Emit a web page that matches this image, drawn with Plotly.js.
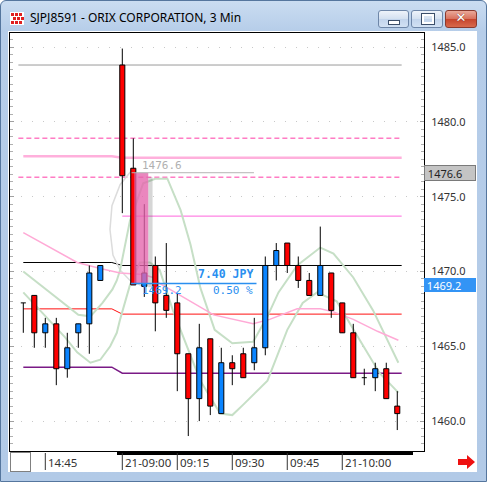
<!DOCTYPE html>
<html>
<head>
<meta charset="utf-8">
<script src="https://cdn.plot.ly/plotly-3.0.1.min.js"></script>
<style>
  html, body { margin: 0; padding: 0; width: 487px; height: 482px; overflow: hidden; background: #fff; }
  body { font-family: "Noto Sans", "Liberation Sans", sans-serif; }
  #frame { position: absolute; left: 0; top: 0; width: 485px; height: 480px; border: 1px solid #55769e;
           border-radius: 6px 6px 0 0; background: linear-gradient(#cadcf1, #b6cde9 30px, #b2cae7); }
  #client { position: absolute; left: 8px; top: 31px; width: 469px; height: 441px; background: #fff; }
  #icon { position: absolute; left: 10px; top: 12px; width: 14px; height: 13px; background: #fff; }
  #icon i { position: absolute; width: 3px; height: 3px; background: #e02020; }
  #title { position: absolute; left: 30px; top: 11px; font-size: 12px; line-height: 14px; color: #000; white-space: nowrap; }
  .btn { position: absolute; top: 10px; height: 16px; border: 1px solid #6e86a8; border-radius: 3px;
         background: linear-gradient(#eef3fa, #d3e0f0 50%, #c2d4ec 51%, #d2e1f3); }
  #bmin { left: 378px; width: 29px; }
  #bmax { left: 411px; width: 30px; }
  #bclose { left: 445px; width: 30px; border-color: #8a3a2e;
            background: linear-gradient(#eaa99a, #d8705c 50%, #c5442c 51%, #d8694c); }
  #bmin i { position: absolute; left: 9px; top: 9px; width: 10px; height: 3px; background: #fff; border: 1px solid #3c4f6a; }
  #bmax i { position: absolute; left: 10px; top: 3px; width: 8px; height: 6px; border: 2px solid #fff; outline: 1px solid #3c4f6a; }
  #bclose span { position: absolute; left: 0; top: -1px; width: 30px; text-align: center; color: #fff;
                 font: bold 13px "DejaVu Sans", sans-serif; text-shadow: 0 0 1px #5a1a10; }
  #chart { position: absolute; left: 0; top: 0; width: 487px; height: 482px; }
  #corner { position: absolute; left: 10px; top: 452px; width: 19px; height: 18px; border: 1px solid #808080; background: #fff; }
  #arrow { position: absolute; left: 458px; top: 455px; }
</style>
</head>
<body>
<div id="frame"></div>
<div id="client"></div>
<div id="icon">
  <i style="left:1px;top:1px"></i><i style="left:5px;top:1px"></i><i style="left:9px;top:1px"></i>
  <i style="left:3px;top:5px"></i><i style="left:7px;top:5px"></i><i style="left:11px;top:5px"></i>
  <i style="left:1px;top:9px"></i><i style="left:5px;top:9px"></i><i style="left:9px;top:9px"></i>
</div>
<div id="title">SJPJ8591 - ORIX CORPORATION, 3 Min</div>
<div class="btn" id="bmin"><i></i></div>
<div class="btn" id="bmax"><i></i></div>
<div class="btn" id="bclose"><span>✕</span></div>
<div id="chart"></div>
<div id="corner"></div>
<svg id="arrow" width="18" height="14" viewBox="0 0 18 14"><polygon points="0,4 9,4 9,0 17,7 9,14 9,10 0,10" fill="#ee1111"/></svg>
<script>
// 3-minute bars, position on the bar axis (slot 8 is the overnight break)
const barIdx = [0, 1, 2, 3, 4, 5, 6, 7,
                9, 10, 11, 12, 13, 14, 15, 16, 17, 18, 19, 20, 21, 22, 23, 24, 25, 26, 27, 28, 29, 30, 31, 32, 33, 34];
const openP  = [1467.9, 1468.4, 1465.9, 1466.5, 1463.5, 1465.9, 1466.5, 1469.4,
                1483.8, 1476.9, 1469.0, 1470.4, 1468.4, 1467.9, 1464.5, 1461.5, 1465.5, 1460.5, 1463.9, 1464.5,
                1463.9, 1464.9, 1470.4, 1471.9, 1470.4, 1469.4, 1468.4, 1469.9, 1467.9, 1465.9, 1462.9, 1462.9, 1463.5, 1461.0];
const highP  = [1467.9, 1468.4, 1466.9, 1466.9, 1465.9, 1466.5, 1470.4, 1470.4,
                1484.9, 1478.9, 1474.5, 1471.0, 1471.9, 1468.5, 1464.5, 1466.5, 1465.5, 1464.9, 1464.4, 1464.9,
                1466.9, 1471.0, 1471.9, 1471.9, 1471.0, 1469.9, 1473.0, 1469.9, 1467.9, 1466.5, 1463.5, 1463.9, 1463.9, 1462.0];
const lowP   = [1465.9, 1464.9, 1464.9, 1462.4, 1462.9, 1464.9, 1464.5, 1469.4,
                1473.9, 1469.1, 1468.3, 1466.0, 1466.9, 1462.0, 1459.0, 1460.0, 1460.4, 1460.5, 1462.4, 1462.9,
                1463.4, 1464.4, 1469.4, 1469.9, 1468.9, 1468.4, 1468.4, 1466.9, 1465.9, 1462.9, 1462.4, 1462.0, 1461.5, 1459.4];
const closeP = [1467.9, 1465.9, 1466.5, 1463.5, 1464.9, 1466.5, 1469.9, 1470.4,
                1476.4, 1469.1, 1469.9, 1467.9, 1467.4, 1464.5, 1461.5, 1464.9, 1461.0, 1463.9, 1463.5, 1462.9,
                1464.9, 1470.4, 1471.4, 1470.4, 1469.4, 1468.4, 1470.4, 1467.4, 1465.9, 1462.9, 1462.9, 1463.5, 1461.5, 1460.5];

// time axis labels
const tickIdx  = [2, 9, 14, 19, 24, 29];
const tickText = ['14:45', '21-09:00', '09:15', '09:30', '09:45', '21-10:00'];

// reference levels: value before and after the session break
const levelNames  = ['pivotTop', 'pivotMid', 'pivotLow', 'band'];
const levelBefore = [1470.6, 1467.5, 1463.6, 1477.7];
const levelAfter  = [1470.4, 1467.15, 1463.2, 1477.6];
const dayOpenLevel = 1483.8;
const dashedLevels = [1478.9, 1476.3];
const thinLevel = 1473.7;

// envelope and average curves
const upperX = [0, 3.3, 5, 6.1, 7.2, 8.1, 8.5, 8.8, 9.7, 10.9, 12, 13.1, 14.3, 15.2, 16.1, 17.4, 19, 20.9, 22.2, 23.2, 24.9, 27, 28.2, 30, 31.8, 34.1];
const upperY = [1470.0, 1468.1, 1467.1, 1467.0, 1467.9, 1468.8, 1469.4, 1470.1, 1473.4, 1475.9, 1476.2, 1476.2, 1474.1, 1471.8, 1468.9, 1466.1, 1465.2, 1465.3, 1467.0, 1468.6, 1470.4, 1471.6, 1471.2, 1469.6, 1467.4, 1463.9];
const lowerX = [0, 1.8, 3.8, 4.9, 6.1, 7, 7.9, 8.5, 8.8, 9.7, 10.6, 11.5, 12.4, 13.6, 16.1, 17.9, 19, 20, 22.2, 24, 25.4, 26.7, 28.5, 30.6, 32.4, 34.1];
const lowerY = [1468.6, 1467.2, 1465.6, 1464.6, 1463.9, 1464.1, 1465.0, 1465.9, 1466.8, 1469.1, 1470.6, 1470.6, 1470.1, 1467.4, 1462.7, 1460.5, 1460.4, 1461.1, 1462.7, 1466.1, 1467.9, 1468.6, 1468.0, 1465.4, 1463.2, 1461.9];
const avgX = [0, 2.9, 4.9, 7, 8.3, 8.8, 10.9, 11.8, 12.4, 15.4, 17.3, 20.9, 22.4, 24.9, 27, 28.2, 30, 32.2, 34.1];
const avgY = [1472.6, 1471.4, 1470.6, 1470.2, 1470.0, 1469.9, 1469.8, 1469.6, 1469.2, 1467.9, 1467.1, 1466.5, 1466.8, 1467.5, 1467.5, 1467.3, 1466.8, 1466.0, 1465.4];
const arcX = [9.9, 8.8, 8.06, 7.88, 8.15, 8.8, 9.7, 10.9];
const arcY = [1476.8, 1475.8, 1474.4, 1472.8, 1471.1, 1470.1, 1469.4, 1469.0];

// price measurement between two levels
const measureFrom = 1476.6;
const measureTo = 1469.2;
const lastPrice = 1469.2;

const RED = '#ff0000', BLUE = '#0a84ff';
const xStart = 0, xBreak = 8.05, xResume = 9, xEnd = 34.4;
const halfW = 0.23;

const traces = [];
function hline(xs, ys, color, width, dash) {
  traces.push({ type: 'scatter', mode: 'lines', x: xs, y: ys, hoverinfo: 'skip',
                line: { color: color, width: width, dash: dash || 'solid' } });
}

// horizontal levels
hline([-0.45, xEnd], [dayOpenLevel, dayOpenLevel], '#9a9a9a', 1);
dashedLevels.forEach(v => hline([-0.45, xEnd], [v, v], '#ff7cc4', 1.5, '5px,3px'));
hline([xResume, xEnd], [thinLevel, thinLevel], '#ff66dd', 1);
const levelColors = ['#000000', '#ff1010', '#7a1a86', '#ffb0dc'];
const levelWidths = [1, 1, 1.5, 2.5];
levelNames.forEach((n, k) => hline([xStart, xBreak, xResume, xEnd],
  [levelBefore[k], levelBefore[k], levelAfter[k], levelAfter[k]], levelColors[k], levelWidths[k]));

// curves
hline(arcX, arcY, '#dcdcdc', 1.5);
hline(upperX, upperY, '#c6dfc6', 2);
hline(lowerX, lowerY, '#c6dfc6', 2);
hline(avgX, avgY, '#ffaad6', 1.5);

// wicks
const wx = [], wy = [];
barIdx.forEach((x, i) => { wx.push(x, x, null); wy.push(lowP[i], highP[i], null); });
traces.push({ type: 'scatter', mode: 'lines', x: wx, y: wy, hoverinfo: 'skip', line: { color: '#000', width: 1 } });

// bodies
function bodies(up) {
  const bx = [], by = [];
  barIdx.forEach((x, i) => {
    const o = openP[i], c = closeP[i];
    if (o === c || (c > o) !== up) return;
    const lo = Math.min(o, c), hi = Math.max(o, c);
    bx.push(x - halfW, x + halfW, x + halfW, x - halfW, x - halfW, null);
    by.push(lo, lo, hi, hi, lo, null);
  });
  traces.push({ type: 'scatter', mode: 'lines', x: bx, y: by, fill: 'toself', fillcolor: up ? BLUE : RED,
                hoverinfo: 'skip', line: { color: '#000', width: 1 } });
}
bodies(true);
bodies(false);

// doji bars
const dx = [], dy = [];
barIdx.forEach((x, i) => { if (openP[i] === closeP[i]) { dx.push(x - halfW, x + halfW, null); dy.push(openP[i], openP[i], null); } });
traces.push({ type: 'scatter', mode: 'lines', x: dx, y: dy, hoverinfo: 'skip', line: { color: '#000', width: 1 } });

const pxY = 1 / 418;
const shapes = [
  // measurement box
  { type: 'rect', xref: 'x', yref: 'y', x0: 11.36, x1: 11.75, y0: measureTo - 0.25, y1: measureFrom - 0.3,
    fillcolor: 'rgba(90,90,90,0.25)', line: { width: 0 }, layer: 'above' },
  { type: 'rect', xref: 'x', yref: 'y', x0: 10.09, x1: 11.36, y0: measureTo, y1: measureFrom,
    fillcolor: 'rgba(228,100,172,0.78)', line: { width: 0 }, layer: 'above' },
  { type: 'line', xref: 'x', yref: 'y', x0: 9.85, x1: 20.97, y0: measureFrom, y1: measureFrom,
    line: { color: '#b4b4b4', width: 1 }, layer: 'above' },
  { type: 'line', xref: 'x', yref: 'y', x0: 9.8, x1: 21.2, y0: measureTo, y1: measureTo,
    line: { color: '#2a8ff0', width: 1.5 }, layer: 'above' },
  // scroll position bar under the plot
  { type: 'rect', xref: 'paper', yref: 'paper', x0: (117 - 10) / 414, x1: (413 - 10) / 414, y0: -4 * pxY, y1: 0,
    fillcolor: '#000', line: { width: 0 } }
];
tickIdx.forEach(t => shapes.push({ type: 'line', xref: 'x', yref: 'paper', x0: t, x1: t, y0: -2 * pxY, y1: -19 * pxY,
  line: { color: '#333', width: 1 } }));

const mono = '"DejaVu Sans Mono", monospace';
const annotations = [];
tickIdx.forEach((t, k) => annotations.push({ xref: 'x', yref: 'paper', x: t, y: -12 * pxY, xanchor: 'left', yanchor: 'middle',
  xshift: 1, text: tickText[k], showarrow: false, font: { family: '"Noto Sans", sans-serif', size: 11.5, color: '#333' } }));
annotations.push(
  { xref: 'x', yref: 'y', x: 10.6, y: measureFrom, xanchor: 'left', yanchor: 'bottom', yshift: -1,
    text: measureFrom.toFixed(1), showarrow: false, font: { family: mono, size: 11, color: '#b0b0b0' } },
  { xref: 'x', yref: 'y', x: 10.6, y: measureTo, xanchor: 'left', yanchor: 'top', yshift: 1,
    text: measureTo.toFixed(1), showarrow: false, font: { family: mono, size: 11, color: '#2a8ff0' } },
  { xref: 'x', yref: 'y', x: 21.06, y: measureTo, xanchor: 'right', yanchor: 'bottom', yshift: 0,
    text: '<b>' + (measureFrom - measureTo).toFixed(2) + ' JPY</b>', showarrow: false, font: { family: mono, size: 11.5, color: '#2a8ff0' } },
  { xref: 'x', yref: 'y', x: 21.06, y: measureTo, xanchor: 'right', yanchor: 'top', yshift: 1,
    text: ((measureFrom - measureTo) / measureFrom * 100).toFixed(2) + ' %', showarrow: false, font: { family: mono, size: 11, color: '#2a8ff0' } },
  // price tags on the axis
  { xref: 'paper', yref: 'y', x: 1, y: measureFrom, xanchor: 'left', yanchor: 'middle', xshift: 0, width: 50, height: 14,
    align: 'left', text: '&nbsp;' + measureFrom.toFixed(1), showarrow: false, bgcolor: '#c4c4c4', bordercolor: '#7a7a7a',
    borderwidth: 1, borderpad: 0, font: { family: '"Noto Sans", sans-serif', size: 11, color: '#222' } },
  { xref: 'paper', yref: 'y', x: 1, y: lastPrice, xanchor: 'left', yanchor: 'middle', xshift: 0, yshift: -1.5, width: 52, height: 14,
    align: 'left', text: '&nbsp;' + lastPrice.toFixed(1), showarrow: false, bgcolor: '#3394f5', borderwidth: 0, borderpad: 0,
    font: { family: '"Noto Sans", sans-serif', size: 11, color: '#fff' } }
);

const layout = {
  width: 487, height: 482,
  margin: { l: 10, r: 63, t: 33, b: 31, pad: 0 },
  paper_bgcolor: 'rgba(0,0,0,0)', plot_bgcolor: '#fff',
  showlegend: false, hovermode: false,
  xaxis: { range: [-1.21, 36.43], showgrid: false, zeroline: false, showticklabels: false, ticks: '',
           showline: true, linecolor: '#000', linewidth: 1, mirror: true, fixedrange: true },
  yaxis: { side: 'right', range: [1458.0, 1485.94], tick0: 1460, dtick: 5, tickformat: '.1f',
           ticks: 'inside', ticklen: 4, tickcolor: '#a0a0a0', ticklabelstandoff: 4,
           minor: { dtick: 0.5, ticks: 'inside', ticklen: 3, tickcolor: '#b0b0b0', showgrid: false },
           showline: true, linecolor: '#000', linewidth: 1, mirror: 'ticks',
           showgrid: true, gridcolor: '#c8c8c8', griddash: '1px,10px', gridwidth: 1,
           zeroline: false, fixedrange: true,
           tickfont: { family: '"Noto Sans", sans-serif', size: 11, color: '#333' } },
  shapes: shapes,
  annotations: annotations
};

Plotly.newPlot('chart', traces, layout, { displayModeBar: false, staticPlot: true });
</script>
</body>
</html>
